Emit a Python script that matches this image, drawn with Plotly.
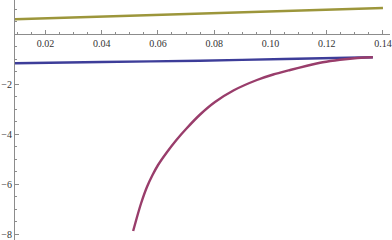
import plotly.graph_objects as go

# Data
x_blue = [0.0092, 0.04, 0.075, 0.105, 0.1364]
y_blue = [-1.17, -1.12, -1.07, -1.00, -0.93]

x_purple = [0.0512, 0.0525, 0.0540, 0.0561, 0.0580, 0.0600, 0.0632, 0.0665,
            0.0700, 0.0750, 0.0803, 0.0870, 0.0952, 0.1010, 0.1070, 0.1130,
            0.1186, 0.1247, 0.1300, 0.1364]
y_purple = [-7.88, -7.35, -6.78, -6.12, -5.66, -5.25, -4.73, -4.25,
            -3.80, -3.22, -2.72, -2.25, -1.84, -1.62, -1.44, -1.27,
            -1.13, -1.03, -0.97, -0.93]

x_gold = [0.0092, 0.075, 0.14]
y_gold = [0.59, 0.82, 1.04]

x_ticks = [0.02, 0.04, 0.06, 0.08, 0.10, 0.12, 0.14]
x_labels = ["0.02", "0.04", "0.06", "0.08", "0.10", "0.12", "0.14"]
y_ticks = [-8, -6, -4, -2]
y_labels = ["\u22128", "\u22126", "\u22124", "\u22122"]

fig = go.Figure()
fig.add_trace(go.Scatter(x=x_blue, y=y_blue, mode="lines",
                         line=dict(color="#3d3d99", width=2.4, shape="spline", smoothing=0.6)))
fig.add_trace(go.Scatter(x=x_purple, y=y_purple, mode="lines",
                         line=dict(color="#993d6b", width=2.4, shape="spline", smoothing=0.6)))
fig.add_trace(go.Scatter(x=x_gold, y=y_gold, mode="lines",
                         line=dict(color="#9c963b", width=2.4)))

axis_col = "#8c8c8c"
font = dict(family="serif", size=10, color="#333333")

fig.update_layout(
    width=392, height=240,
    margin=dict(l=15, r=2, t=0, b=0, autoexpand=False),
    paper_bgcolor="white", plot_bgcolor="white",
    showlegend=False,
    font=font,
    xaxis=dict(range=[0.0092, 0.1425], anchor="free", position=1 - 34 / 240,
               side="bottom", showgrid=False, zeroline=False, automargin=False,
               showline=True, linecolor=axis_col, linewidth=1,
               ticks="inside", ticklen=4, tickcolor=axis_col, tickwidth=1,
               tickvals=x_ticks, ticktext=x_labels, tickfont=font,
               minor=dict(dtick=0.005, tick0=0, ticks="inside", ticklen=2,
                          tickcolor=axis_col, showgrid=False)),
    yaxis=dict(range=[-8.24, 1.36], showgrid=False, zeroline=False, automargin=False,
               showline=True, linecolor=axis_col, linewidth=1,
               ticks="inside", ticklen=4, tickcolor=axis_col, tickwidth=1,
               tickvals=y_ticks, ticktext=y_labels, tickfont=font,
               minor=dict(dtick=0.5, tick0=0, ticks="inside", ticklen=2,
                          tickcolor=axis_col, showgrid=False)),
)

fig.write_html("out.html", config={"displayModeBar": False, "staticPlot": True},
               post_script="document.body.style.margin='0';document.body.style.padding='0';")
